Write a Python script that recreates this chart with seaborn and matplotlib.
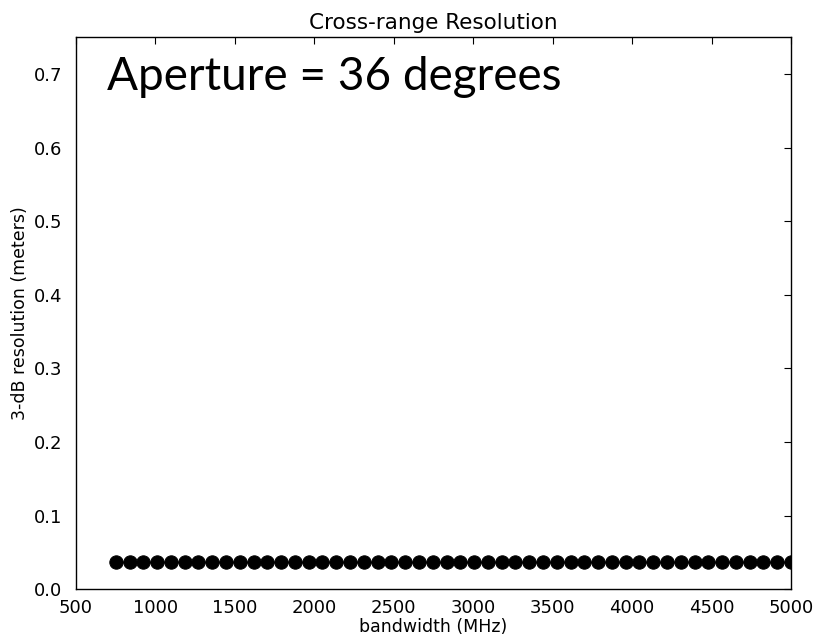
import numpy as np
import pandas as pd
import matplotlib
matplotlib.use("Agg")
import matplotlib.pyplot as plt
import seaborn as sns

# Bandwidth sweep (MHz) and the resulting cross-range resolution (m)
bandwidth_mhz = np.linspace(750, 5000, 50)
resolution_m = [0.037] * 50
aperture_deg = 36

x_ticks = [500, 1000, 1500, 2000, 2500, 3000, 3500, 4000, 4500, 5000]
y_ticks = [0.0, 0.1, 0.2, 0.3, 0.4, 0.5, 0.6, 0.7]

df = pd.DataFrame({"bandwidth": bandwidth_mhz, "resolution": resolution_m})

sns.set_style("white")
plt.rcParams["font.family"] = ["DejaVu Sans"]
plt.rcParams["text.color"] = "black"
plt.rcParams["axes.labelcolor"] = "black"

fig = plt.figure(figsize=(8.13, 6.44), dpi=100)
ax = fig.add_axes([0.0935, 0.085, 0.8795, 0.857])

sns.lineplot(data=df, x="bandwidth", y="resolution", ax=ax, color="black",
             marker="o", markersize=9.6, markeredgecolor="black",
             markerfacecolor="black", linewidth=1.0, clip_on=True)

ax.set_xlim(500, 5000)
ax.set_ylim(0, 0.75)
ax.set_xticks(x_ticks)
ax.set_yticks(y_ticks)
ax.set_xticklabels([str(t) for t in x_ticks])
ax.set_yticklabels([f"{t:.1f}" for t in y_ticks])

ax.tick_params(direction="in", length=5, width=0.8, top=True, right=True,
               labelsize=13, colors="black")
ax.tick_params(axis="y", pad=10)
ax.tick_params(axis="x", pad=7)
for s in ax.spines.values():
    s.set_visible(True)
    s.set_color("black")
    s.set_linewidth(1.0)

ax.set_xlabel("bandwidth (MHz)", fontsize=12.5, labelpad=1)
ax.set_ylabel("3-dB resolution (meters)", fontsize=12.5, labelpad=3)
ax.set_title("Cross-range Resolution", fontsize=15.5, pad=6)

ax.text(0.043, 0.905, f"Aperture = {aperture_deg} degrees",
        transform=ax.transAxes, fontsize=33, family=["Lato", "DejaVu Sans"],
        va="baseline", ha="left", color="black")

fig.savefig("out.png", dpi=100, facecolor="white")
